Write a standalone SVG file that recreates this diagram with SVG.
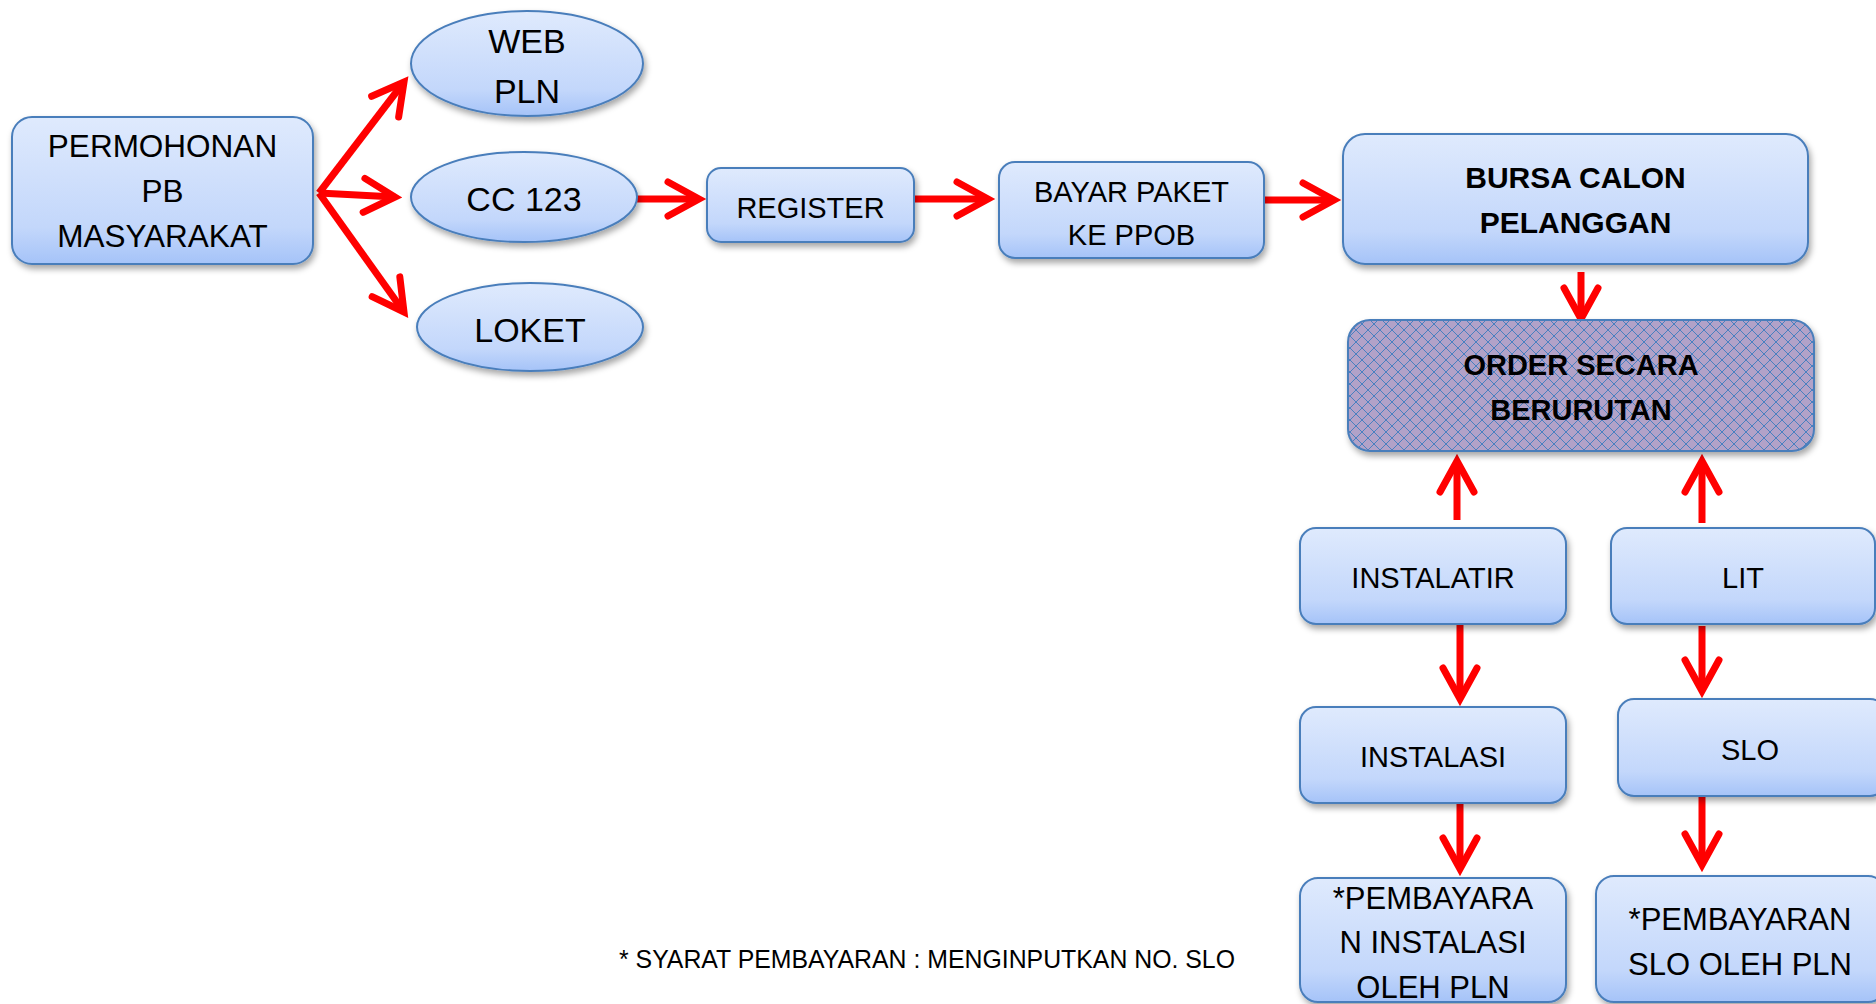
<svg xmlns="http://www.w3.org/2000/svg" width="1876" height="1004" viewBox="0 0 1876 1004">
<defs>
<linearGradient id="g" x1="0" y1="0" x2="0" y2="1">
<stop offset="0" stop-color="#dfeafd"/>
<stop offset="0.75" stop-color="#c3d7fb"/>
<stop offset="1" stop-color="#a5c3f8"/>
</linearGradient>
<pattern id="hatch" x="0" y="0" width="12" height="12" patternUnits="userSpaceOnUse">
<rect width="12" height="12" fill="#b2a2c8"/>
<path fill="#4a80c0" shape-rendering="crispEdges" d="M0,5h1v1h-1z M1,4h1v1h-1z M2,3h1v1h-1z M3,2h1v1h-1z M4,1h1v1h-1z M5,0h1v1h-1z M6,0h1v1h-1z M7,1h1v1h-1z M8,2h1v1h-1z M9,3h1v1h-1z M10,4h1v1h-1z M11,5h1v1h-1z M11,6h1v1h-1z M10,7h1v1h-1z M9,8h1v1h-1z M8,9h1v1h-1z M7,10h1v1h-1z M6,11h1v1h-1z M5,11h1v1h-1z M4,10h1v1h-1z M3,9h1v1h-1z M2,8h1v1h-1z M1,7h1v1h-1z M0,6h1v1h-1z"/>
</pattern>
<filter id="sh" x="-10%" y="-10%" width="120%" height="130%">
<feDropShadow dx="2" dy="4" stdDeviation="3" flood-color="#000" flood-opacity="0.35"/>
</filter>
<marker id="ah" viewBox="-40 -22 50 44" markerWidth="50" markerHeight="44" refX="0" refY="0" orient="auto" markerUnits="userSpaceOnUse">
<path d="M-31,-17 L0,0 L-31,17" fill="none" stroke="#ff0000" stroke-width="7" stroke-linecap="round" stroke-linejoin="miter"/>
</marker>
</defs>
<style>
.box{fill:url(#g);stroke:#4a7ebb;stroke-width:2;filter:url(#sh)}
.hb{fill:url(#hatch);stroke:#4a7ebb;stroke-width:2;filter:url(#sh)}
.t{font-family:"Liberation Sans",Arial,sans-serif;font-size:31px;fill:#000;text-anchor:middle}
.tp{font-size:31.5px}
.tl{font-size:34px}
.tm{font-size:29px}
.b{font-weight:bold;font-size:29px}
.b2{font-size:30px}
.c{stroke:#ff0000;stroke-width:7;fill:none;marker-end:url(#ah)}
.fn{font-family:"Liberation Sans",Arial,sans-serif;font-size:25px;fill:#000}
</style>
<rect width="1876" height="1004" fill="#ffffff"/>

<g id="connectors">
<line class="c" x1="319" y1="193" x2="404" y2="82"/>
<line class="c" x1="319" y1="193" x2="395" y2="197"/>
<line class="c" x1="319" y1="193" x2="404" y2="312"/>
<line class="c" x1="637" y1="199" x2="699" y2="199"/>
<line class="c" x1="914" y1="199" x2="988" y2="199"/>
<line class="c" x1="1264" y1="200" x2="1334" y2="200"/>
<line class="c" x1="1581" y1="272" x2="1581" y2="319"/>
<line class="c" x1="1457" y1="520" x2="1457" y2="461"/>
<line class="c" x1="1702" y1="523" x2="1702" y2="461"/>
<line class="c" x1="1460" y1="625" x2="1460" y2="699"/>
<line class="c" x1="1702" y1="626" x2="1702" y2="691"/>
<line class="c" x1="1460" y1="795" x2="1460" y2="869"/>
<line class="c" x1="1702" y1="791" x2="1702" y2="865"/>
</g>

<g id="permohonan">
<rect class="box" x="12" y="117" width="301" height="147" rx="20"/>
<text class="t tp" x="162.5" y="157">PERMOHONAN</text>
<text class="t tp" x="162.5" y="202">PB</text>
<text class="t tp" x="162.5" y="247">MASYARAKAT</text>
</g>
<g id="web-pln">
<ellipse class="box" cx="527" cy="63.5" rx="116" ry="52.5"/>
<text class="t tl" x="527" y="53">WEB</text>
<text class="t tl" x="527" y="103">PLN</text>
</g>
<g id="cc123">
<ellipse class="box" cx="524" cy="197" rx="113" ry="45"/>
<text class="t tl" x="524" y="211">CC 123</text>
</g>
<g id="loket">
<ellipse class="box" cx="530" cy="327" rx="113" ry="44"/>
<text class="t tl" x="530" y="342">LOKET</text>
</g>
<g id="register">
<rect class="box" x="707" y="168" width="207" height="74" rx="14"/>
<text class="t tm" x="810.5" y="218">REGISTER</text>
</g>
<g id="bayar-paket">
<rect class="box" x="999" y="162" width="265" height="96" rx="16"/>
<text class="t tm" x="1131.5" y="202">BAYAR PAKET</text>
<text class="t tm" x="1131.5" y="245">KE PPOB</text>
</g>
<g id="bursa">
<rect class="box" x="1343" y="134" width="465" height="130" rx="22"/>
<text class="t b b2" x="1575.5" y="188">BURSA CALON</text>
<text class="t b b2" x="1575.5" y="233">PELANGGAN</text>
</g>
<g id="order">
<rect class="hb" x="1348" y="320" width="466" height="131" rx="22"/>
<text class="t b" x="1581" y="375">ORDER SECARA</text>
<text class="t b" x="1581" y="420">BERURUTAN</text>
</g>
<g id="instalatir">
<rect class="box" x="1300" y="528" width="266" height="96" rx="16"/>
<text class="t tm" x="1433" y="588">INSTALATIR</text>
</g>
<g id="lit">
<rect class="box" x="1611" y="528" width="264" height="96" rx="16"/>
<text class="t tm" x="1743" y="588">LIT</text>
</g>
<g id="instalasi">
<rect class="box" x="1300" y="707" width="266" height="96" rx="16"/>
<text class="t tm" x="1433" y="767">INSTALASI</text>
</g>
<g id="slo">
<rect class="box" x="1618" y="699" width="268" height="97" rx="16"/>
<text class="t tm" x="1750" y="760">SLO</text>
</g>
<g id="pembayaran-instalasi">
<rect class="box" x="1300" y="878" width="266" height="124" rx="18"/>
<text class="t" x="1433" y="909">*PEMBAYARA</text>
<text class="t" x="1433" y="953">N INSTALASI</text>
<text class="t" x="1433" y="998">OLEH PLN</text>
</g>
<g id="pembayaran-slo">
<rect class="box" x="1596" y="876" width="290" height="126" rx="18"/>
<text class="t" x="1740" y="930">*PEMBAYARAN</text>
<text class="t" x="1740" y="975">SLO OLEH PLN</text>
</g>
<text class="fn" x="619" y="968" textLength="616" lengthAdjust="spacingAndGlyphs">* SYARAT PEMBAYARAN : MENGINPUTKAN NO. SLO</text>
</svg>
